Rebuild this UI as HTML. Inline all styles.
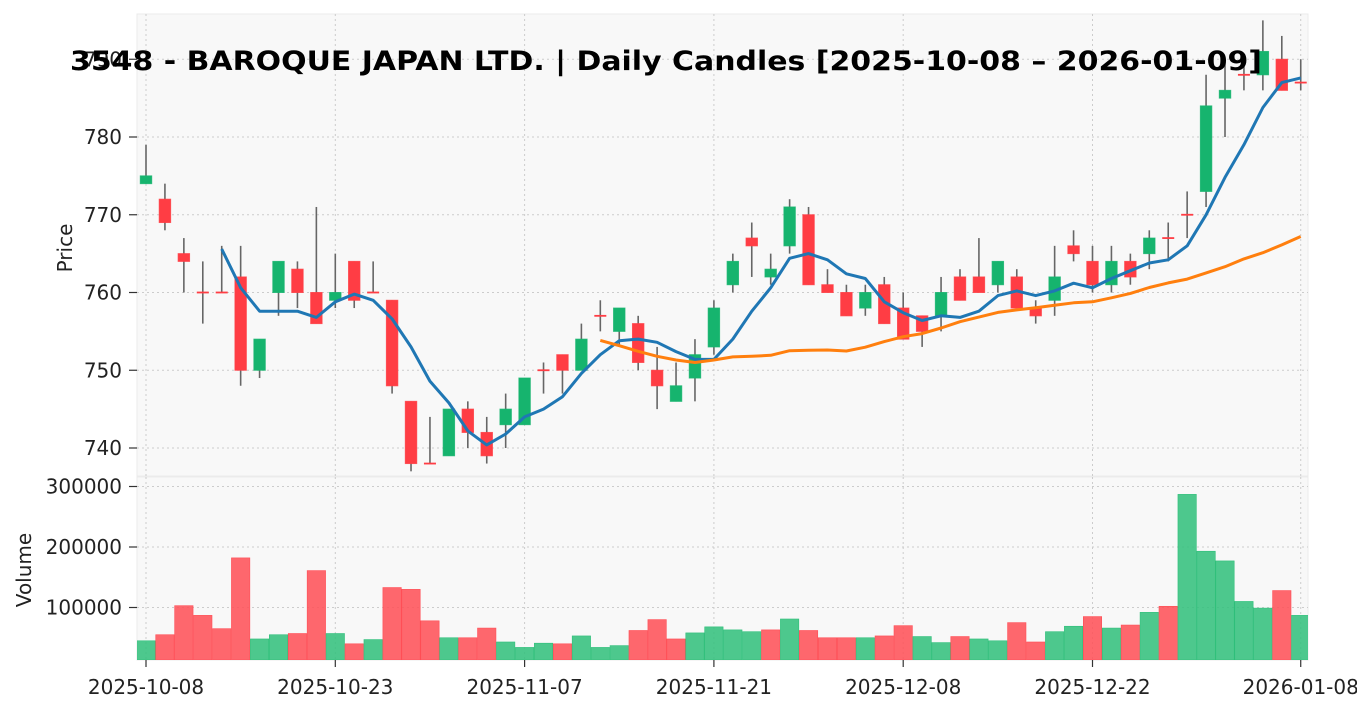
<!DOCTYPE html>
<html><head><meta charset="utf-8"><style>
html,body{margin:0;padding:0;background:#fff;}
svg{display:block;font-family:"DejaVu Sans","Liberation Sans",sans-serif;}
</style></head><body>
<svg id="c" width="1357" height="711" xmlns="http://www.w3.org/2000/svg"></svg>
<script>
const D=[[774,779,774,775],[772,774,768,769],[765,767,760,764],[760,764,756,760],[760,766,760,760],[762,766,748,750],[750,754,749,754],[760,764,757,764],[763,764,758,760],[760,771,756,756],[759,765,758,760],[764,764,758,759],[760,764,760,760],[759,759,747,748],[746,746,737,738],[738,744,738,738],[739,745,739,745],[745,746,740,742],[742,744,738,739],[743,747,740,745],[743,749,743,749],[750,751,747,750],[752,752,747,750],[750,756,750,754],[757,759,755,757],[755,758,753,758],[756,757,750,751],[750,753,745,748],[746,751,746,748],[749,754,746,752],[753,759,752,758],[761,765,760,764],[767,769,762,766],[762,765,761,763],[766,772,765,771],[770,771,761,761],[761,763,760,760],[760,761,757,757],[758,761,757,760],[761,762,756,756],[758,760,754,754],[757,757,753,755],[757,762,755,760],[762,763,759,759],[762,767,760,760],[761,764,760,764],[762,763,758,758],[758,759,756,757],[759,766,757,762],[766,768,764,765],[764,766,760,761],[761,766,760,764],[764,765,761,762],[765,768,763,767],[767,769,764,767],[770,773,767,770],[773,788,771,784],[785,790,780,786],[788,790,786,788],[788,795,786,791],[790,793,786,786],[787,790,786,787]];
const V=[45,55,103,87,65,182,48,55,57,161,57,40,47,133,130,78,50,50,66,43,34,41,40,53,34,37,62,80,48,58,68,63,60,63,81,62,50,50,50,53,70,52,42,52,48,45,75,43,60,69,85,66,71,92,102,287,193,177,110,99,128,87];
const X=i=>146+18.93*i, Y=p=>448-(p-740)*7.775, VY=v=>668-v*0.605;
const G='#16b46e',R='#ff3d44';
let s='';
s+='<rect x="137" y="14" width="1171" height="462" fill="#f8f8f8" stroke="#ebebeb"/>';
s+='<rect x="137" y="477" width="1171" height="183" fill="#f8f8f8" stroke="#ebebeb"/>';
const vt=[[0,'2025-10-08'],[10,'2025-10-23'],[20,'2025-11-07'],[30,'2025-11-21'],[40,'2025-12-08'],[50,'2025-12-22'],[61,'2026-01-08']];
for(const [i,l] of vt){const x=X(i);
 s+=`<line x1="${x}" y1="14" x2="${x}" y2="476" stroke="#ccc" stroke-dasharray="2,3"/>`;
 s+=`<line x1="${x}" y1="477" x2="${x}" y2="660" stroke="#ccc" stroke-dasharray="2,3"/>`;
 s+=`<line x1="${x}" y1="660" x2="${x}" y2="667" stroke="#333" stroke-width="1.2"/>`;
 s+=`<text x="${x}" y="694" font-size="20" text-anchor="middle" fill="#222">${l}</text>`;}
for(let p=740;p<=790;p+=10){const y=Y(p);
 s+=`<line x1="137" y1="${y}" x2="1308" y2="${y}" stroke="#ccc" stroke-dasharray="2,3"/>`;
 s+=`<line x1="129" y1="${y}" x2="137" y2="${y}" stroke="#333" stroke-width="1.2"/>`;
 s+=`<text x="122" y="${y+7}" font-size="20" text-anchor="end" fill="#222">${p}</text>`;}
for(const v of [100,200,300]){const y=VY(v);
 s+=`<line x1="137" y1="${y}" x2="1308" y2="${y}" stroke="#ccc" stroke-dasharray="2,3"/>`;
 s+=`<line x1="129" y1="${y}" x2="137" y2="${y}" stroke="#333" stroke-width="1.2"/>`;
 s+=`<text x="122" y="${y+7}" font-size="20" text-anchor="end" fill="#222">${v}000</text>`;}
s+='<svg x="137" y="477" width="1171" height="183" overflow="hidden"><g transform="translate(-137,-477)">';
for(let i=0;i<V.length;i++){const up=i==0||D[i][3]>D[i-1][3];const c=up?'#2fbf7a':'#ff4d55';const y=VY(V[i]);
 s+=`<rect x="${X(i)-9.2}" y="${y}" width="18.4" height="${660-y}" fill="${c}" fill-opacity="0.85" stroke="${c}" stroke-width="0.6"/>`;}
s+='</g></svg>';
for(let i=0;i<D.length;i++){const [o,h,l,c]=D[i];const x=X(i);const col=c>o?G:R;
 s+=`<line x1="${x}" y1="${Y(h)}" x2="${x}" y2="${Y(l)}" stroke="#666" stroke-width="1.6"/>`;
 const t=Y(Math.max(o,c)),b=Y(Math.min(o,c));
 if(b-t<1.5) s+=`<line x1="${x-6}" y1="${t}" x2="${x+6}" y2="${t}" stroke="${col}" stroke-width="1.8"/>`;
 else s+=`<rect x="${x-5.7}" y="${t}" width="11.4" height="${b-t}" fill="${col}" stroke="${col}" stroke-opacity="0.8" stroke-width="1"/>`;}
function ma(n,col){let pts=[];for(let i=n-1;i<D.length;i++){let a=0;for(let k=i-n+1;k<=i;k++)a+=D[k][3];pts.push(X(i).toFixed(1)+','+Y(a/n).toFixed(1));}
 return `<polyline points="${pts.join(' ')}" fill="none" stroke="${col}" stroke-width="3" stroke-linejoin="round"/>`;}
s+=ma(5,'#1f77b4')+ma(25,'#ff7f0e');
s+='<text x="72" y="248" font-size="20" text-anchor="middle" fill="#222" transform="rotate(-90 72 248)">Price</text>';
s+='<text x="31" y="570" font-size="20" text-anchor="middle" fill="#222" transform="rotate(-90 31 570)">Volume</text>';
s+='<text x="666" y="70" font-size="27" font-weight="bold" text-anchor="middle" fill="#000" textLength="1192" lengthAdjust="spacingAndGlyphs">3548 - BAROQUE JAPAN LTD. | Daily Candles [2025-10-08 – 2026-01-09]</text>';
document.getElementById('c').innerHTML=s;
</script>
</body></html>
